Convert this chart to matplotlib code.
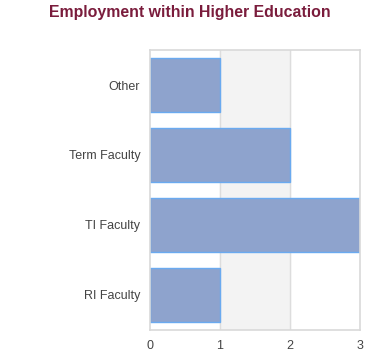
import matplotlib
matplotlib.use("Agg")
import matplotlib.pyplot as plt

# data
categories = ["RI Faculty", "TI Faculty", "Term Faculty", "Other"]
counts = [1, 3, 2, 1]
x_ticks = [0, 1, 2, 3]

plt.rcParams['font.family'] = ['Liberation Sans', 'DejaVu Sans']

fig = plt.figure(figsize=(3.8, 3.6), dpi=100)
ax = fig.add_axes([150 / 380, 30 / 360, 210 / 380, 280 / 360])

# alternating band between gridlines
ax.axvspan(1, 2, color="#f3f3f3", zorder=0)
for xv in x_ticks[1:-1]:
    ax.axvline(xv, color="#dddddd", linewidth=1, zorder=1)

ax.barh(range(len(categories)), counts, height=0.76, color="#8ea3cd",
        edgecolor="#6aaaf0", linewidth=1, zorder=2)

ax.set_xlim(0, 3)
ax.set_ylim(-0.5, len(categories) - 0.5)
ax.set_xticks(x_ticks)
ax.set_yticks(range(len(categories)))
ax.set_yticklabels(categories)
ax.tick_params(axis="both", length=0, labelsize=9, labelcolor="#444444")
ax.tick_params(axis="x", pad=7)
ax.tick_params(axis="y", pad=7)
for s in ax.spines.values():
    s.set_color("#d9d9d9")
    s.set_linewidth(1.2)

fig.text(0.5, 1 - 13 / 360, "Employment within Higher Education", ha="center", va="center",
         fontsize=11.4, fontweight="bold", color="#7a1c3c")

fig.savefig("out.png", dpi=100)
